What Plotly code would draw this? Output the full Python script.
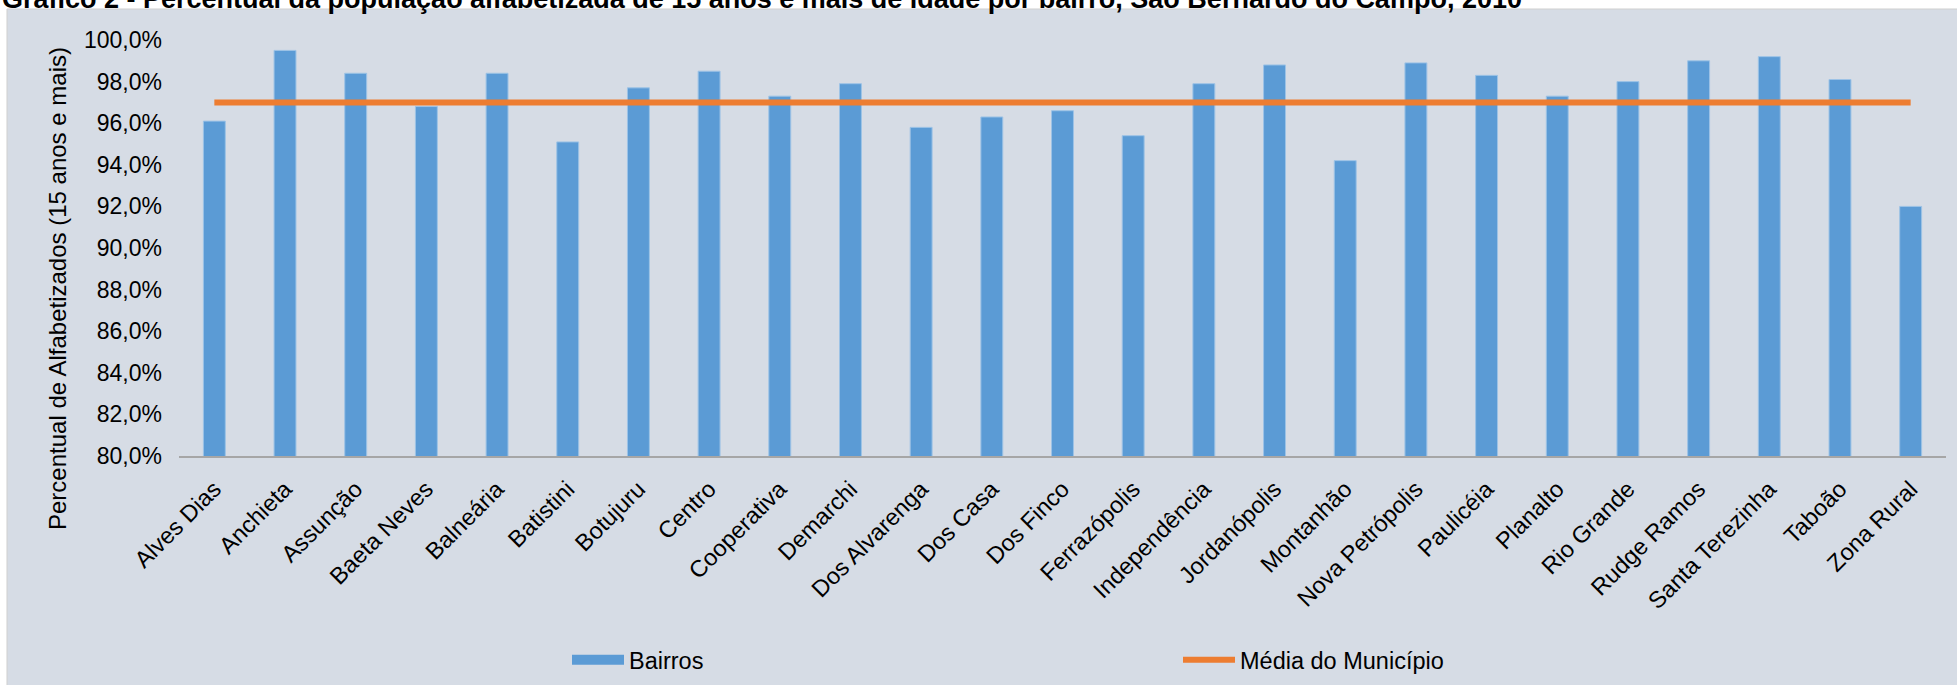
import plotly.graph_objects as go

# dados
bairros = ['Alves Dias', 'Anchieta', 'Assunção', 'Baeta Neves', 'Balneária',
           'Batistini', 'Botujuru', 'Centro', 'Cooperativa', 'Demarchi',
           'Dos Alvarenga', 'Dos Casa', 'Dos Finco', 'Ferrazópolis',
           'Independência', 'Jordanópolis', 'Montanhão', 'Nova Petrópolis',
           'Paulicéia', 'Planalto', 'Rio Grande', 'Rudge Ramos',
           'Santa Terezinha', 'Taboão', 'Zona Rural']

alfabetizados = [96.1, 99.5, 98.4, 96.8, 98.4,
                 95.1, 97.7, 98.5, 97.3, 97.9,
                 95.8, 96.3, 96.6, 95.4,
                 97.9, 98.8, 94.2, 98.9,
                 98.3, 97.3, 98.0, 99.0,
                 99.2, 98.1, 92.0]

media_municipio = 97.0

y_ticks = [80, 82, 84, 86, 88, 90, 92, 94, 96, 98, 100]

titulo = ('Gráfico 2 - Percentual da população alfabetizada de 15 anos e mais '
          'de idade por bairro, São Bernardo do Campo, 2010')
titulo_y = 'Percentual de Alfabetizados (15 anos e mais)'

W, H = 1957, 685
L, R, T, B = 179, 11, 40, 229
pw, ph = W - L - R, H - T - B

bg = '#D6DCE5'
blue = '#5B9BD5'
orange = '#ED7D31'
font = 'Arial, Liberation Sans, sans-serif'


def px_x(x):
    return (x - L) / pw


def px_y(y):
    return (H - B - y) / ph


fig = go.Figure()

fig.add_trace(go.Bar(
    x=bairros, y=[v / 100 for v in alfabetizados], name='Bairros',
    showlegend=False, legendgroup='b',
    marker=dict(color=blue, line=dict(color='#9DC3E6', width=1))))

# entrada de legenda com símbolo retangular largo
fig.add_trace(go.Scatter(
    x=[None], y=[None], name='Bairros', mode='lines', legendgroup='b',
    line=dict(color=blue, width=13)))

fig.add_trace(go.Scatter(
    x=bairros, y=[media_municipio / 100] * len(bairros),
    name='Média do Município', mode='lines',
    line=dict(color=orange, width=6)))

# fundo cinza do gráfico
fig.add_shape(type='rect', xref='paper', yref='paper', layer='below',
              x0=px_x(7), x1=px_x(W + 5), y0=px_y(H + 5), y1=px_y(9),
              fillcolor=bg, line=dict(color='#CFCFCF', width=1))

fig.add_annotation(text='<b>' + titulo + '</b>', xref='paper', yref='paper',
                   x=px_x(0), y=px_y(8), xanchor='left', yanchor='bottom',
                   showarrow=False, font=dict(size=27, color='black', family=font),
                   yshift=-8)

fig.add_annotation(text=titulo_y, xref='paper', yref='paper', textangle=-90,
                   x=px_x(57), y=px_y(289), xanchor='center', yanchor='middle',
                   showarrow=False, font=dict(size=24, color='black', family=font))

fig.update_layout(
    width=W, height=H,
    margin=dict(l=L, r=R, t=T, b=B, autoexpand=False),
    paper_bgcolor='white', plot_bgcolor='rgba(0,0,0,0)',
    font=dict(family=font, size=23.5, color='black'),
    separators=',.',
    bargap=0.69,
    showlegend=True,
    legend=dict(orientation='h', x=px_x(567), y=px_y(660), xanchor='left',
                yanchor='middle', entrywidth=544, entrywidthmode='pixels',
                itemwidth=52, font=dict(size=23.5), bgcolor='rgba(0,0,0,0)'),
)

fig.update_xaxes(showline=True, linecolor='#A6A6A6', linewidth=2,
                 showgrid=False, ticks='', tickangle=-45, automargin=False,
                 ticklabelstandoff=8)
fig.update_yaxes(range=[0.8, 1.0], tickvals=[v / 100 for v in y_ticks],
                 tickformat='.1%', showgrid=False, zeroline=False,
                 showline=False, ticks='', ticklabelstandoff=16,
                 automargin=False, tickfont=dict(size=23))

# sem a margem padrão do body, para o gráfico encostar no canto da janela
fig.write_html('out.html', config={'displayModeBar': False},
               post_script="document.body.style.margin='0';")
